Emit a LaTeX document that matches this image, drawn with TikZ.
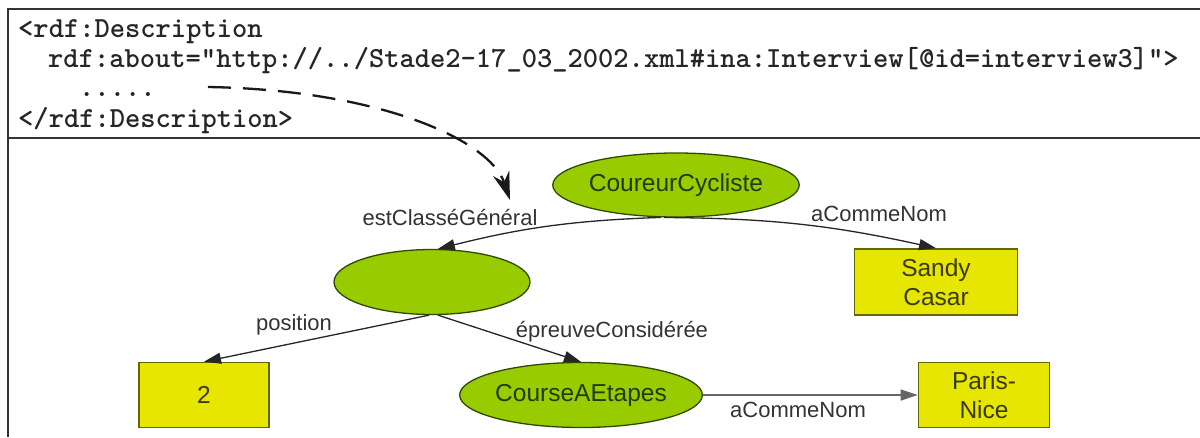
\documentclass[tikz,border=0pt]{standalone}
\usepackage{fontspec}
\setmainfont{Liberation Sans}
\newfontfamily\codefont{lmmonolt10-bold.otf}
\usetikzlibrary{shapes.geometric,arrows.meta}
\definecolor{ellfill}{HTML}{99CC00}
\definecolor{ellline}{HTML}{2E4A00}
\definecolor{boxfill}{HTML}{E6E600}
\definecolor{boxline}{HTML}{666600}
\definecolor{ntext}{HTML}{233A00}
\definecolor{btext}{HTML}{3A3A00}
\definecolor{ltext}{HTML}{333333}
\definecolor{framecol}{HTML}{333333}
\begin{document}
\begin{tikzpicture}[x=1pt,y=-1pt,
 ell/.style={ellipse,draw=ellline,line width=1.3pt,fill=ellfill,inner sep=0pt,text=ntext,font=\fontsize{24.5}{28}\selectfont},
 lit/.style={rectangle,draw=boxline,line width=1.6pt,fill=boxfill,inner sep=0pt,align=center,text=btext,font=\fontsize{24.5}{28.5}\selectfont},
 lbl/.style={anchor=base,text=ltext,inner sep=0pt,font=\fontsize{22}{26}\selectfont},
 code/.style={anchor=base west,inner sep=0pt,text=black!85,font=\codefont\fontsize{29.1}{30}\selectfont},
 edge/.style={draw=black!85,line width=1.3pt,-{Triangle[length=17pt,width=11pt]}},
 dasharrow/.style={draw=black!90,line width=2.3pt,dash pattern=on 23pt off 12pt,-{Stealth[length=28pt,width=17pt]}},
 frameline/.style={draw=framecol,line width=2pt}]
\useasboundingbox (0,0) rectangle (1200,437);
\fill[white] (0,0) rectangle (1200,437);
\draw[frameline] (8,437) -- (8,9) -- (1200,9);
\draw[frameline] (8,138) -- (1200,138);
% code
\node[code] (l1) at (18,37) {<rdf:Description};
\node[code] (l2) at (48,67) {rdf:about="http://../Stade2-17\_03\_2002.xml\#ina:Interview[@id=interview3]">};
\node[code] (l3) at (79,96) {.....};
\node[code] (l4) at (18,127) {</rdf:Description>};
% nodes
\node[ell,minimum width=228pt,minimum height=64pt] (cc) at (676,185) {CoureurCycliste};
\node[ell,minimum width=196pt,minimum height=65pt] (bn) at (432,282) {};
\node[ell,minimum width=228pt,minimum height=65pt] (ce) at (581,395) {CourseAEtapes};
\node[lit,minimum width=163pt,minimum height=66pt] (sc) at (936,282) {Sandy\\Casar};
\node[lit,minimum width=130pt,minimum height=65pt] (two) at (204,395) {2};
\node[lit,minimum width=131pt,minimum height=65pt] (pn) at (984,395) {Paris-\\Nice};
% labels
\node[lbl] (t1) at (450,225) {estClasséGénéral};
\node[lbl] (t2) at (879,221) {aCommeNom};
\node[lbl] (t3) at (294,330) {position};
\node[lbl] (t4) at (612,337) {épreuveConsidérée};
\node[lbl] (t5) at (798,417) {aCommeNom};
% edges
\draw[edge] (cc.245) to[bend right=6] (bn.80);
\draw[edge] (cc.250) to[bend left=6] (sc.north);
\draw[edge] (bn.265) -- (two.north);
\draw[edge] (bn.280) -- (ce.north);
\draw[edge,draw=black!60] (ce.east) -- (pn.west);
% dashed reference arrow
\coordinate (ds) at (208,87);
\coordinate (de) at (510,200);
\draw[dasharrow] (ds) .. controls (380,90) and (490,140) .. (de);
\end{tikzpicture}
\end{document}
